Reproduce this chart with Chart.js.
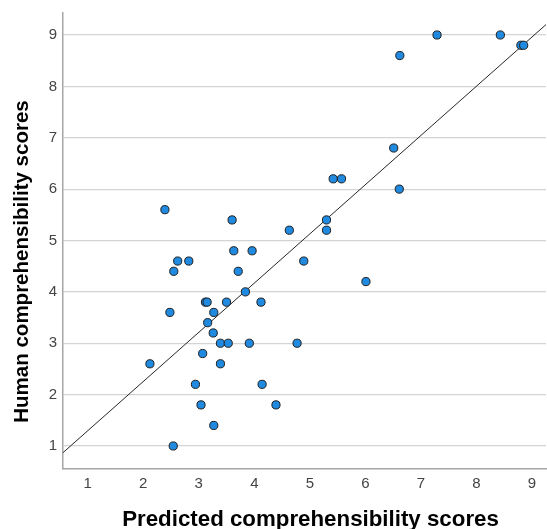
<!DOCTYPE html>
<html>
<head>
<meta charset="utf-8">
<script src="https://cdn.jsdelivr.net/npm/chart.js@4.4.1/dist/chart.umd.min.js"></script>
<style>
  html, body { margin: 0; padding: 0; background: #ffffff; }
  #wrap { width: 547px; height: 529px; position: relative; }
</style>
</head>
<body>
<div id="wrap"><canvas id="scatterChart"></canvas></div>
<script>
// Predicted vs. human comprehensibility
const predictedScores = [
  2.39, 3.60, 3.63, 3.96, 2.62, 2.82, 2.55, 3.71, 3.84, 3.12,
  3.15, 3.50, 4.12, 2.48, 3.27, 3.16, 3.26, 3.39, 3.53, 3.91,
  4.77, 3.07, 2.12, 3.39, 2.94, 4.14, 3.04, 4.39, 3.27, 2.54,
  5.42, 5.57, 6.51, 6.61, 5.30, 4.63, 5.30, 4.89, 6.01, 7.29,
  8.43, 8.80, 8.85, 6.62
];
const humanScores = [
  5.6, 5.4, 4.8, 4.8, 4.6, 4.6, 4.4, 4.4, 4.0, 3.8,
  3.8, 3.8, 3.8, 3.6, 3.6, 3.4, 3.2, 3.0, 3.0, 3.0,
  3.0, 2.8, 2.6, 2.6, 2.2, 2.2, 1.8, 1.8, 1.4, 1.0,
  6.2, 6.2, 6.8, 6.0, 5.4, 5.2, 5.2, 4.6, 4.2, 9.0,
  9.0, 8.8, 8.8, 8.6
];

// fit line end points
const fitLineX = [0.555, 9.26];
const fitLineY = [0.87, 9.21];

const xTickValues = [1, 2, 3, 4, 5, 6, 7, 8, 9];
const yTickValues = [1, 2, 3, 4, 5, 6, 7, 8, 9];

const xAxisTitle = "Predicted comprehensibility scores";
const yAxisTitle = "Human comprehensibility scores";

const FONT = "'Liberation Sans', Arial, sans-serif";

// axis titles drawn by hand so they sit where the original has them
const axisTitles = {
  id: "axisTitles",
  afterDraw(chart) {
    const ctx = chart.ctx;
    ctx.save();
    ctx.fillStyle = "#000000";
    ctx.textAlign = "center";
    ctx.textBaseline = "alphabetic";
    ctx.font = "bold 22.3px " + FONT;
    ctx.fillText(xAxisTitle, 310.5, 525.5);
    ctx.translate(28, 261.5);
    ctx.rotate(-Math.PI / 2);
    ctx.font = "bold 20.5px " + FONT;
    ctx.fillText(yAxisTitle, 0, 0);
    ctx.restore();
  },
};

document.addEventListener("DOMContentLoaded", function () {
  const points = predictedScores.map((x, i) => ({ x: x, y: humanScores[i] }));
  const linePoints = fitLineX.map((x, i) => ({ x: x, y: fitLineY[i] }));

  const ctx = document.getElementById("scatterChart").getContext("2d");
  new Chart(ctx, {
    type: "scatter",
    data: {
      datasets: [
        {
          type: "line",
          data: linePoints,
          borderColor: "#262626",
          borderWidth: 1,
          pointRadius: 0,
          fill: false,
          order: 2,
        },
        {
          data: points,
          backgroundColor: "#1f8ae0",
          borderColor: "#1e1e1e",
          borderWidth: 1,
          pointRadius: 4.1,
          order: 1,
        },
      ],
    },
    options: {
      responsive: true,
      maintainAspectRatio: false,
      animation: false,
      layout: { autoPadding: false, padding: { top: 13, right: 1, left: 0, bottom: 0 } },
      plugins: {
        legend: { display: false },
        tooltip: { enabled: false },
      },
      scales: {
        x: {
          type: "linear",
          min: 0.555,
          max: 9.252,
          afterFit: (scale) => {
            scale.height = 60;
            scale.paddingLeft = 0;
            scale.paddingRight = 0;
          },
          afterBuildTicks: (scale) => {
            scale.ticks = xTickValues.map((v) => ({ value: v }));
          },
          grid: { display: false, drawTicks: false },
          border: { display: true, color: "#a6a6a6", width: 1.5 },
          ticks: {
            color: "#444444",
            font: { family: FONT, size: 15 },
            padding: 6,
            maxRotation: 0,
          },
        },
        y: {
          type: "linear",
          min: 0.552,
          max: 9.428,
          afterFit: (scale) => {
            scale.width = 63;
            scale.paddingTop = 0;
            scale.paddingBottom = 0;
          },
          afterBuildTicks: (scale) => {
            scale.ticks = yTickValues.map((v) => ({ value: v }));
          },
          grid: { color: "#d4d4d4", lineWidth: 1.2, drawTicks: false },
          border: { display: true, color: "#a6a6a6", width: 1.5 },
          ticks: {
            color: "#444444",
            font: { family: FONT, size: 15 },
            padding: 6,
          },
        },
      },
    },
    plugins: [axisTitles],
  });
});
</script>
</body>
</html>
